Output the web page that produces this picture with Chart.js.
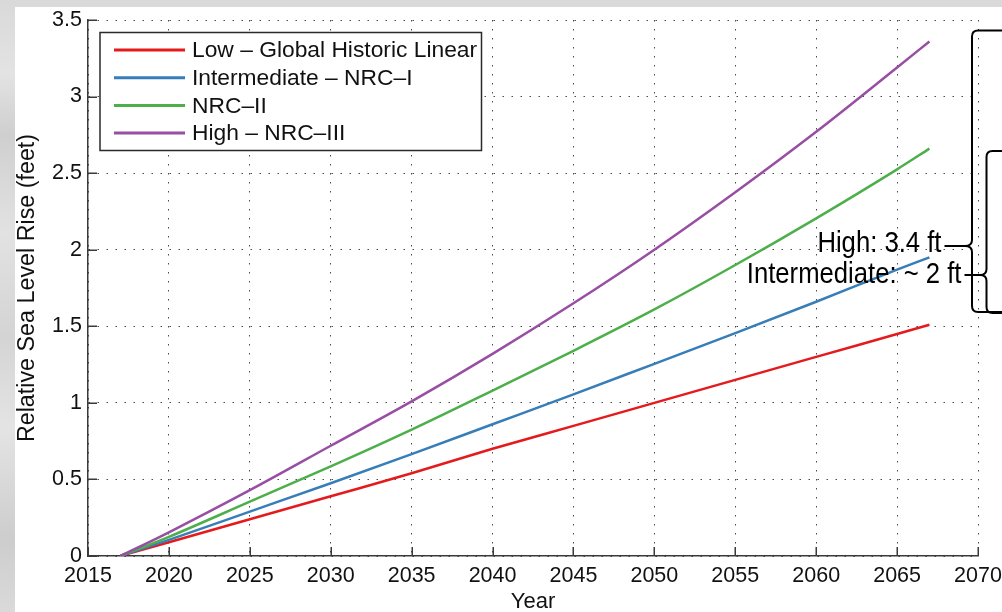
<!DOCTYPE html>
<html>
<head>
<meta charset="utf-8">
<title>Relative Sea Level Rise Projections</title>
<script src="https://cdn.jsdelivr.net/npm/chart.js@4.4.0/dist/chart.umd.min.js"></script>
<style>
  html, body { margin: 0; padding: 0; }
  body {
    width: 1002px; height: 612px; overflow: hidden; position: relative;
    background: linear-gradient(180deg, #d9d9d9 0%, #e3e3e3 12%, #cfcfcf 22%, #e2e2e2 38%,
      #d4d4d4 55%, #e4e4e4 70%, #cdcdcd 88%, #dadada 100%);
  }
  #panel { position: absolute; left: 15px; top: 7px; right: 0; bottom: 0; background: #ffffff; }
  #wrap { position: absolute; left: 0; top: 0; width: 1002px; height: 612px; }
</style>
</head>
<body>
<div id="panel"></div>
<div id="wrap"><canvas id="slr" width="1002" height="612"></canvas></div>
<script>
// Projection years and relative sea level rise (feet) for each scenario
const years = [2017, 2020, 2025, 2030, 2035, 2040, 2045, 2050, 2055, 2060, 2065, 2067];
const lowHistoric = [0, 0.09, 0.24, 0.39, 0.54, 0.70, 0.85, 1.00, 1.15, 1.30, 1.45, 1.51];
const intermediateNRC1 = [0, 0.105, 0.29, 0.475, 0.665, 0.86, 1.055, 1.255, 1.455, 1.66, 1.87, 1.95];
const nrc2 = [0, 0.125, 0.355, 0.585, 0.825, 1.08, 1.34, 1.61, 1.90, 2.205, 2.525, 2.66];
const highNRC3 = [0, 0.155, 0.43, 0.72, 1.01, 1.32, 1.65, 2.00, 2.375, 2.77, 3.19, 3.36];

const seriesNames = ['Low \u2013 Global Historic Linear', 'Intermediate \u2013 NRC\u2013I', 'NRC\u2013II', 'High \u2013 NRC\u2013III'];

// Axis ticks
const xTickValues = [2015, 2020, 2025, 2030, 2035, 2040, 2045, 2050, 2055, 2060, 2065, 2070];
const xTickLabels = ['2015', '2020', '2025', '2030', '2035', '2040', '2045', '2050', '2055', '2060', '2065', '2070'];
const yTickValues = [0, 0.5, 1, 1.5, 2, 2.5, 3, 3.5];
const yTickLabels = ['0', '0.5', '1', '1.5', '2', '2.5', '3', '3.5'];

const FONT = '"Liberation Sans", Arial, Helvetica, sans-serif';
const AXIS_COLOR = '#3a3a3a';

function toPoints(values) {
  return values.map((v, i) => ({ x: years[i], y: v }));
}

const lineColors = ['#e41a1c', '#377eb8', '#4daf4a', '#984ea3'];
const seriesValues = [lowHistoric, intermediateNRC1, nrc2, highNRC3];

const datasets = seriesValues.map((vals, i) => ({
  label: seriesNames[i],
  data: toPoints(vals),
  borderColor: lineColors[i],
  backgroundColor: lineColors[i],
  borderWidth: 2.5,
  pointRadius: 0,
  fill: false,
  cubicInterpolationMode: 'monotone',
  order: seriesValues.length - 1 - i
}));

// Inward tick marks on the left and bottom axes
const inwardTicks = {
  id: 'inwardTicks',
  afterDatasetsDraw(chart) {
    const { ctx, chartArea: a, scales: { x, y } } = chart;
    const len = 9;
    ctx.save();
    ctx.strokeStyle = AXIS_COLOR;
    ctx.lineWidth = 1.5;
    ctx.beginPath();
    xTickValues.forEach(v => {
      const px = Math.round(x.getPixelForValue(v)) + 0.25;
      ctx.moveTo(px, a.bottom);
      ctx.lineTo(px, a.bottom - len);
    });
    yTickValues.forEach(v => {
      const py = Math.round(y.getPixelForValue(v)) + 0.25;
      ctx.moveTo(a.left, py);
      ctx.lineTo(a.left + len, py);
    });
    ctx.stroke();
    ctx.restore();
  }
};

// Boxed legend in the upper-left corner of the plot
const boxLegend = {
  id: 'boxLegend',
  afterDatasetsDraw(chart) {
    const { ctx, chartArea: a } = chart;
    const x0 = a.left + 12, y0 = a.top + 12.5, w = 381.5, h = 118;
    ctx.save();
    ctx.fillStyle = '#ffffff';
    ctx.fillRect(x0, y0, w, h);
    ctx.strokeStyle = '#2a2a2a';
    ctx.lineWidth = 1.5;
    ctx.strokeRect(x0, y0, w, h);
    ctx.font = '22.8px ' + FONT;
    ctx.textBaseline = 'middle';
    ctx.textAlign = 'left';
    chart.data.datasets.forEach((ds, i) => {
      const ry = y0 + 17.5 + i * 27.7;
      ctx.strokeStyle = ds.borderColor;
      ctx.lineWidth = 3;
      ctx.beginPath();
      ctx.moveTo(x0 + 14, ry);
      ctx.lineTo(x0 + 85, ry);
      ctx.stroke();
      ctx.fillStyle = '#111111';
      ctx.fillText(ds.label, x0 + 92, ry + 1);
    });
    ctx.restore();
  }
};

// Curly brace opening to the right, with its point on the left at yTip
function drawBrace(ctx, x, yTop, yBot, yTip, tipX, rightEdge) {
  const r = 6;
  ctx.beginPath();
  ctx.moveTo(rightEdge, yTop);
  ctx.lineTo(x + r, yTop);
  ctx.quadraticCurveTo(x, yTop, x, yTop + r);
  ctx.lineTo(x, yTip - r);
  ctx.quadraticCurveTo(x, yTip, tipX, yTip);
  ctx.quadraticCurveTo(x, yTip, x, yTip + r);
  ctx.lineTo(x, yBot - r);
  ctx.quadraticCurveTo(x, yBot, x + r, yBot);
  ctx.lineTo(rightEdge, yBot);
  ctx.stroke();
}

// End-of-period callouts for the High and Intermediate scenarios
const callouts = {
  id: 'callouts',
  afterDraw(chart) {
    const { ctx, chartArea: a } = chart;
    const last = years.length - 1;
    const highText = 'High: ' + highNRC3[last].toFixed(1) + ' ft';
    const interText = 'Intermediate: ~ ' + Math.round(intermediateNRC1[last]) + ' ft';
    const edge = chart.width + 2;
    const squeeze = 0.885;

    ctx.save();
    ctx.fillStyle = '#000000';
    ctx.font = '29px ' + FONT;
    ctx.textAlign = 'right';
    ctx.textBaseline = 'alphabetic';

    const highRight = a.right - 36.5, highBase = a.top + 231.5;
    const interRight = a.right - 16.5, interBase = a.top + 263;
    ctx.save();
    ctx.scale(squeeze, 1);
    ctx.fillText(highText, highRight / squeeze, highBase);
    ctx.fillText(interText, interRight / squeeze, interBase);
    ctx.restore();

    ctx.strokeStyle = '#000000';
    ctx.lineWidth = 2;
    ctx.lineJoin = 'round';

    // connectors from the text to the braces
    const highTipY = a.top + 226, interTipY = a.top + 255;
    ctx.beginPath();
    ctx.moveTo(highRight + 3, highTipY);
    ctx.lineTo(a.right - 13, highTipY);
    ctx.moveTo(interRight + 3, interTipY);
    ctx.lineTo(a.right + 2, interTipY);
    ctx.stroke();

    drawBrace(ctx, a.right - 6, a.top + 10.5, a.top + 292, highTipY, a.right - 13, edge);
    drawBrace(ctx, a.right + 8.5, a.top + 131, a.top + 293, interTipY, a.right + 2, edge);
    ctx.restore();
  }
};

new Chart(document.getElementById('slr'), {
  type: 'line',
  data: { datasets },
  plugins: [inwardTicks, boxLegend, callouts],
  options: {
    responsive: false,
    animation: false,
    devicePixelRatio: 1,
    layout: { padding: { top: 20, right: 24, bottom: 0, left: 0 } },
    plugins: {
      legend: { display: false },
      tooltip: { enabled: false }
    },
    scales: {
      x: {
        type: 'linear',
        min: 2015,
        max: 2070,
        afterBuildTicks(scale) { scale.ticks = xTickValues.map(v => ({ value: v })); },
        afterFit(scale) { scale.height = 56; scale.paddingLeft = 0; scale.paddingRight = 0; },
        ticks: {
          autoSkip: false,
          maxRotation: 0,
          padding: 7,
          color: '#111111',
          font: { family: FONT, size: 21.5 },
          callback: (v, i) => xTickLabels[i]
        },
        grid: { color: 'rgba(30,30,30,0.8)', lineWidth: 1, drawTicks: false },
        border: { display: true, color: AXIS_COLOR, width: 1.5, dash: [1.5, 7.5] },
        title: {
          display: true,
          text: 'Year',
          color: '#111111',
          font: { family: FONT, size: 22, lineHeight: 1 },
          padding: { top: 0, bottom: -1 }
        }
      },
      y: {
        type: 'linear',
        min: 0,
        max: 3.5,
        afterBuildTicks(scale) { scale.ticks = yTickValues.map(v => ({ value: v })); },
        afterFit(scale) { scale.width = 88; scale.paddingTop = 0; scale.paddingBottom = 0; },
        ticks: {
          autoSkip: false,
          padding: 6,
          color: '#111111',
          font: { family: FONT, size: 21.5 },
          callback: (v, i) => yTickLabels[i]
        },
        grid: { color: 'rgba(30,30,30,0.8)', lineWidth: 1, drawTicks: false },
        border: { display: true, color: AXIS_COLOR, width: 1.5, dash: [1.5, 7.5] },
        title: {
          display: true,
          text: 'Relative Sea Level Rise (feet)',
          color: '#111111',
          font: { family: FONT, size: 23.3, lineHeight: 1.2 },
          padding: { top: 14, bottom: 0 }
        }
      }
    }
  }
});
</script>
</body>
</html>
